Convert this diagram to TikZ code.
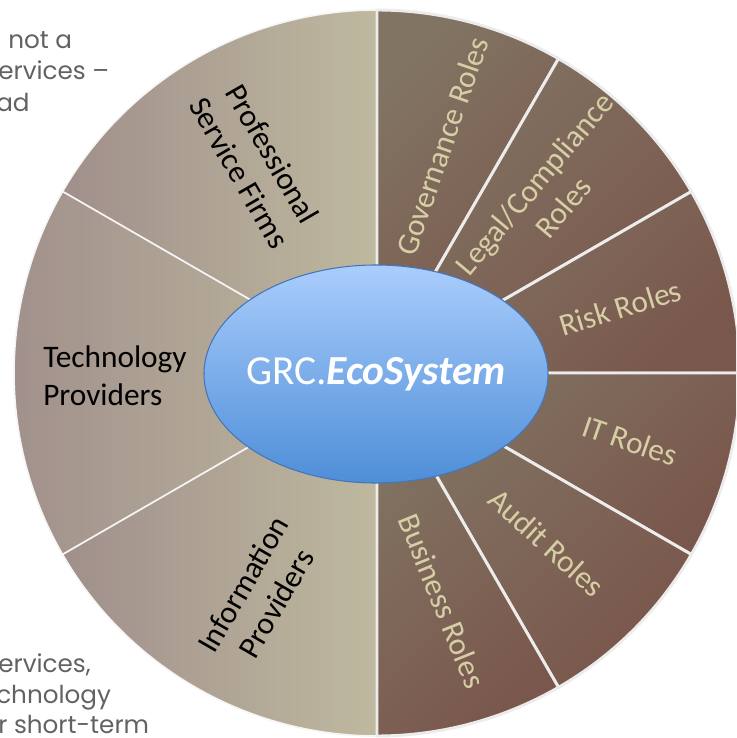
\documentclass[tikz,border=0pt]{standalone}
\usepackage{fontspec}
\setmainfont{Carlito}
\newfontfamily\gothic{Poppins}
\usetikzlibrary{shapes.geometric}

\definecolor{mauve}{RGB}{160,143,139}
\definecolor{khaki}{RGB}{191,185,159}
\definecolor{rolegray}{RGB}{129,116,99}
\definecolor{rolered}{RGB}{122,87,76}
\definecolor{roleink}{RGB}{214,207,166}
\definecolor{asidegray}{RGB}{98,98,98}
\definecolor{ecotop}{RGB}{170,205,252}
\definecolor{ecobottom}{RGB}{78,142,216}
\definecolor{ecoline}{RGB}{68,118,186}

\begin{document}
\begin{tikzpicture}[x=0.75pt, y=0.75pt,
    vendor/.style={left color=mauve, right color=khaki, draw=white!92!gray, line width=1.2pt},
    role/.style={top color=rolegray, bottom color=rolered, shading angle=45, draw=white!85!gray, line width=2.2pt},
    vendortext/.style={font=\fontsize{23.5}{28.5}\selectfont, text=black, align=center, inner sep=0pt},
    roletext/.style={font=\fontsize{23.5}{28}\selectfont, text=roleink, align=center, inner sep=0pt},
    aside/.style={font=\gothic\fontsize{18.5}{23}\selectfont, text=asidegray, anchor=base west, inner sep=0pt}]
    \useasboundingbox (-377,-365) rectangle (359,373);
    \clip (-377,-365) rectangle (359,373);

    % notes behind the wheel
    \node[aside] (note1) at (-369, 324) {not a};
    \node[aside] (note2) at (-379, 293) {ervices –};
    \node[aside] (note3) at (-381, 261) {ad};
    \node[aside] (note4) at (-379, -299) {ervices,};
    \node[aside] (note5) at (-381, -330) {chnology};
    \node[aside] (note6) at (-379, -360) {r short-term};

    % providers, left half
    \foreach \a in {90,150,210} {
        \draw[vendor] (0,0) -- (\a:363) arc (\a:\a+60:363) -- cycle;
    }

    % roles, right half
    \foreach \a in {90,60,30,0,-30,-60} {
        \draw[role] (0,0) -- (\a:363) arc (\a:\a-30:363) -- cycle;
    }

    \node[ellipse, draw=ecoline, line width=0.8pt, top color=ecotop, bottom color=ecobottom,
          minimum width=258pt, minimum height=163.5pt, inner sep=0pt, text=white,
          font=\fontsize{31}{36}\selectfont] (eco) at (-1,-1) {\makebox[0pt]{GRC.\textbf{\textit{EcoSystem}}}};

    \node[vendortext, rotate=-60] (firms) at (120:242) {Professional\\Service Firms};
    \node[vendortext, align=left, anchor=west] (tech) at (-334,-3) {Technology\\Providers};
    \node[vendortext, rotate=60] (info) at (242:250) {Information\\Providers};

    \node[roletext, rotate=71] (gov) at (74:236) {Governance Roles};
    \node[roletext, rotate=50] (legal) at (46:247) {Legal/Compliance\\Roles};
    \node[roletext, rotate=17] (risk) at (15:252) {Risk Roles};
    \node[roletext, rotate=-19] (it) at (-15:262) {IT Roles};
    \node[roletext, rotate=-42] (audit) at (-45:240) {Audit Roles};
    \node[roletext, rotate=-68] (business) at (-74:237) {Business Roles};
\end{tikzpicture}
\end{document}
